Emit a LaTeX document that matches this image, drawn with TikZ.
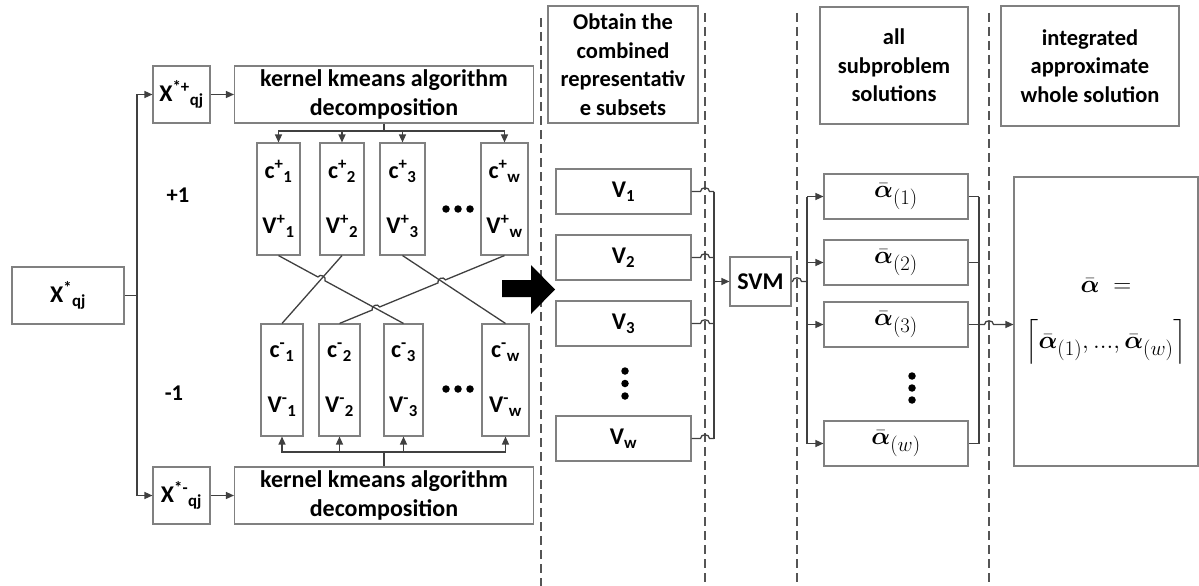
\documentclass[tikz,border=0pt]{standalone}
\usepackage[no-math]{fontspec}
\setmainfont{Carlito}
\usepackage{amsmath}
\usetikzlibrary{arrows.meta,calc}

\definecolor{linec}{HTML}{404040}
\definecolor{boxc}{HTML}{808080}
\definecolor{dashc}{HTML}{555555}

\newcommand\fhead{\fontsize{22.5}{28.5}\selectfont\bfseries}
\newcommand\fkern{\fontsize{24}{29}\selectfont\bfseries}
\newcommand\fbig{\fontsize{24}{28}\selectfont\bfseries}
\newcommand\fmath{\fontsize{28}{32}\selectfont}
\newcommand\cvpair[2]{c\textsuperscript{#1}\textsubscript{#2}\\[27pt]V\textsuperscript{#1}\textsubscript{#2}}
\newcommand\abar{\bar{\boldsymbol{\alpha}}}

\begin{document}
\begin{tikzpicture}[x=1pt,y=-1pt,
  box/.style={draw=boxc,line width=1.1pt,fill=white,inner sep=0pt,align=center,font=\fbig},
  cv/.style={box,minimum height=112pt},
  vbox/.style={box,minimum width=135pt,minimum height=45pt},
  abox/.style={box,minimum width=144pt,minimum height=45pt,font=\fmath},
  lab/.style={inner sep=0pt,font=\fhead},
  conn/.style={draw=linec,line width=1.3pt},
  arr/.style={conn,-{Triangle[length=8pt,width=7pt]}},
  sep/.style={draw=dashc,line width=1.3pt,dash pattern=on 9pt off 5pt},
  dotc/.style={fill=black,circle,inner sep=0pt,minimum size=7.5pt},
  hop/.style={bend left=90,looseness=1.4},
  hopr/.style={bend right=90,looseness=1.4}]

\fill[white] (0,0) rectangle (1199,586);
\useasboundingbox (0,0) rectangle (1199,586);

% column separators
\coordinate (d1) at (541,0);
\coordinate (d2) at (705,0);
\coordinate (d3) at (797,0);
\coordinate (d4) at (989,0);
\draw[sep] (541,18) -- (541,586);
\draw[sep] (705,13) -- (705,586);
\draw[sep] (797,13) -- (797,586);
\draw[sep] (989,13) -- (989,586);

% input and the split into the two classes
\node[box,minimum width=112pt,minimum height=57pt] (X) at (68,295.5) {X\textsuperscript{*}\textsubscript{qj}};
\node[box,minimum width=57pt,minimum height=57pt] (Xp) at (181.5,94.5) {X\textsuperscript{*+}\textsubscript{qj}};
\node[box,minimum width=57pt,minimum height=57pt] (Xm) at (181.5,495.5) {X\textsuperscript{*-}\textsubscript{qj}};
\node[box,minimum width=299pt,minimum height=57pt,font=\fkern] (Kp) at (384,94.5) {kernel kmeans algorithm\\decomposition};
\node[box,minimum width=299pt,minimum height=57pt,font=\fkern] (Km) at (384,495.5) {kernel kmeans algorithm\\decomposition};
\node[lab] (plus) at (178,195) {+1};
\node[lab] (minus) at (174,393) {-1};

% clusters of the positive class
\node[cv,minimum width=43pt] (P1) at (278.5,199) {\cvpair{+}{1}};
\node[cv,minimum width=44pt] (P2) at (342,199) {\cvpair{+}{2}};
\node[cv,minimum width=45pt] (P3) at (402.5,199) {\cvpair{+}{3}};
\node[cv,minimum width=47pt] (Pw) at (504.5,199) {\cvpair{+}{w}};
% clusters of the negative class
\node[cv,minimum width=42pt] (M1) at (282,380) {\cvpair{-}{1}};
\node[cv,minimum width=41pt] (M2) at (339.5,380) {\cvpair{-}{2}};
\node[cv,minimum width=39pt] (M3) at (403.5,380) {\cvpair{-}{3}};
\node[cv,minimum width=47pt] (Mw) at (505.5,380) {\cvpair{-}{w}};

\foreach \x in {446,458,470} {
  \node[dotc] at (\x,209) {};
  \node[dotc] at (\x,389) {};
}

% headers
\node[box,minimum width=150pt,minimum height=117pt,font=\fhead] (H1) at (623,64.5) {Obtain the\\combined\\representativ\\e subsets};
\node[box,minimum width=148pt,minimum height=117pt,font=\fhead] (H2) at (894,65.5) {all\\subproblem\\solutions};
\node[box,minimum width=178pt,minimum height=120pt,font=\fhead] (H3) at (1090,66) {integrated\\approximate\\whole solution};

% combined subsets
\node[vbox] (V1) at (623.5,191.5) {V\textsubscript{1}};
\node[vbox] (V2) at (623.5,257.5) {V\textsubscript{2}};
\node[vbox] (V3) at (623.5,323.5) {V\textsubscript{3}};
\node[vbox] (Vw) at (623.5,438.5) {V\textsubscript{w}};
\foreach \y in {371,383.5,396} \node[dotc] at (625,\y) {};

\node[box,minimum width=61pt,minimum height=49pt] (SVM) at (760.5,281.5) {SVM};

% subproblem solutions
\node[abox] (A1) at (896,196.5) {$\abar_{(1)}$};
\node[abox] (A2) at (896,262.5) {$\abar_{(2)}$};
\node[abox] (A3) at (896,324.5) {$\abar_{(3)}$};
\node[abox] (Aw) at (896,443.5) {$\abar_{(w)}$};
\foreach \y in {376,388,400} \node[dotc] at (912,\y) {};

\node[box,minimum width=184pt,minimum height=289pt,font=\fontsize{31}{36}\selectfont] (B) at (1106,321.5)
  {$\abar\ =$\\[20pt]$\left\lceil\abar_{(1)},...,\abar_{(w)}\right\rceil$};

% big block arrow
\fill[black] (502,280) -- (531,280) -- (531,265) -- (555,289.5) -- (531,314) -- (531,297) -- (502,297) -- cycle;

% splitting connectors
\coordinate (tr) at (137,0);
\draw[conn] (X.east) -- (X.east -| tr);
\draw[arr] (X.east -| tr) |- (Xp.west);
\draw[arr] (X.east -| tr) |- (Xm.west);
\draw[arr] (Xp) -- (Kp);
\draw[arr] (Xm) -- (Km);

\coordinate (tb) at (0,131);
\draw[conn] (Kp.south) -- (Kp.south |- tb);
\foreach \b in {P1,P2,P3,Pw} \draw[arr] (Kp.south |- tb) -| (\b.north);
\coordinate (bb) at (0,452);
\draw[conn] (Km.north) -- (Km.north |- bb);
\foreach \b in {M1,M2,M3,Mw} \draw[arr] (Km.north |- bb) -| (\b.south);

% pairing of positive and negative clusters
\coordinate (I12) at (intersection of P1.south--M3.north and P2.south--M1.north);
\coordinate (I14) at (intersection of P1.south--M3.north and Pw.south--M2.north);
\coordinate (I34) at (intersection of P3.south--Mw.north and Pw.south--M2.north);
\draw[conn] (P2.south) -- (M1.north);
\draw[conn] (P3.south) -- (Mw.north);
\draw[conn] (P1.south) -- ($(I12)!4pt!(P1.south)$) to[hop] ($(I12)!4pt!(M3.north)$) -- (M3.north);
\draw[conn] (Pw.south) -- ($(I34)!4pt!(Pw.south)$) to[hopr] ($(I34)!4pt!(M2.north)$)
  -- ($(I14)!4pt!(Pw.south)$) to[hopr] ($(I14)!4pt!(M2.north)$) -- (M2.north);

% subsets into the SVM
\coordinate (vb) at (714,0);
\foreach \v in {V1,V2,V3,Vw}
  \draw[conn] (\v.east) -- ($(\v.east -| d2)+(-4.5,0)$) to[hop] ($(\v.east -| d2)+(4.5,0)$) -- (\v.east -| vb);
\draw[conn] (V1.east -| vb) -- (Vw.east -| vb);
\draw[arr] (SVM.west -| vb) -- (SVM.west);

% SVM into the subproblem solutions
\coordinate (ab) at (807,0);
\draw[conn] (SVM.east) -- ($(SVM.east -| d3)+(-4.5,0)$) to[hop] ($(SVM.east -| d3)+(4.5,0)$) -- (SVM.east -| ab);
\draw[conn] (A1.west -| ab) -- (Aw.west -| ab);
\foreach \a in {A1,A2,A3,Aw} \draw[arr] (\a.west -| ab) -- (\a.west);

% merging into the whole solution
\coordinate (rb) at (979,0);
\foreach \a in {A1,A2,A3,Aw} \draw[conn] (\a.east) -- (\a.east -| rb);
\draw[conn] (A1.east -| rb) -- (Aw.east -| rb);
\draw[arr] (A3.east -| rb) -- ($(A3.east -| d4)+(-4.5,0)$) to[hop] ($(A3.east -| d4)+(4.5,0)$) -- (B.west |- A3.east);

\end{tikzpicture}
\end{document}
